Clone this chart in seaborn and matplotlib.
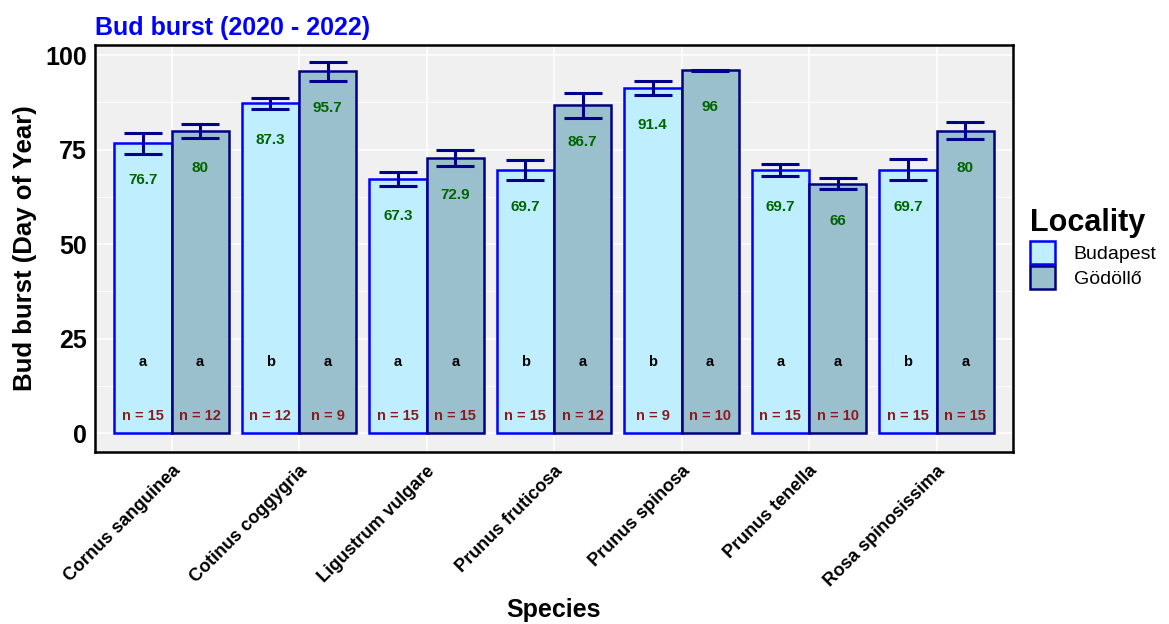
import numpy as np
import pandas as pd
import matplotlib
matplotlib.use("Agg")
import matplotlib.pyplot as plt
import seaborn as sns
from matplotlib.patches import Patch
from matplotlib.ticker import MultipleLocator

# ---- data -------------------------------------------------------------
species = ["Cornus sanguinea", "Cotinus coggygria", "Ligustrum vulgare",
           "Prunus fruticosa", "Prunus spinosa", "Prunus tenella",
           "Rosa spinosissima"]
localities = ["Budapest", "Gödöllő"]

mean_budapest = [76.7, 87.3, 67.3, 69.7, 91.4, 69.7, 69.7]
mean_godollo = [80.0, 95.7, 72.9, 86.7, 96.0, 66.0, 80.0]
se_budapest = [2.8, 1.5, 1.9, 2.7, 1.8, 1.6, 2.8]
se_godollo = [1.8, 2.4, 2.1, 3.2, 0.2, 1.4, 2.2]
letters_budapest = ["a", "b", "a", "b", "b", "a", "b"]
letters_godollo = ["a", "a", "a", "a", "a", "a", "a"]
n_budapest = [15, 12, 15, 15, 9, 15, 15]
n_godollo = [12, 9, 15, 12, 10, 10, 15]

df = pd.DataFrame({
    "Species": species * 2,
    "Locality": [localities[0]] * len(species) + [localities[1]] * len(species),
    "Mean": mean_budapest + mean_godollo,
    "SE": se_budapest + se_godollo,
    "Letter": letters_budapest + letters_godollo,
    "N": n_budapest + n_godollo,
})

fills = {"Budapest": "#BFEFFF", "Gödöllő": "#9AC0CD"}
edges = {"Budapest": "#0000FF", "Gödöllő": "#000080"}

# ---- style ------------------------------------------------------------
sns.set_style("white")
plt.rcParams["font.family"] = ["Liberation Sans", "DejaVu Sans"]
plt.rcParams["font.weight"] = "bold"
plt.rcParams["text.color"] = "black"
plt.rcParams["axes.labelcolor"] = "black"

fig = plt.figure(figsize=(11.69, 6.24), dpi=100)
ax = fig.add_axes([95 / 1169, 1 - 452 / 624, (1013 - 95) / 1169, (452 - 45) / 624])
ax.set_facecolor("#F0F0F0")

sns.barplot(data=df, x="Species", y="Mean", hue="Locality", order=species,
            hue_order=localities, palette=fills, saturation=1, width=0.9,
            gap=0, errorbar=None, legend=False, linewidth=1.8, ax=ax, zorder=2)

# per-locality outline colours, error bars and labels
for loc, container in zip(localities, ax.containers):
    sub = df[df["Locality"] == loc].set_index("Species").loc[species]
    xs = []
    for bar in container:
        bar.set_facecolor(fills[loc])
        bar.set_edgecolor(edges[loc])
        bar.set_linewidth(1.8)
        xs.append(bar.get_x() + bar.get_width() / 2)
    xs = np.array(xs)
    ax.errorbar(xs, sub["Mean"].values, yerr=sub["SE"].values, fmt="none",
                ecolor="#00008B", elinewidth=2.2, capsize=13.5, capthick=2.2,
                zorder=3)
    for x, m, letter, n in zip(xs, sub["Mean"].values, sub["Letter"].values,
                               sub["N"].values):
        ax.text(x, m - 9.8, f"{m:g}", ha="center", va="center",
                color="#006400", fontsize=11, fontweight="bold", zorder=4)
        ax.text(x, 18.7, letter, ha="center", va="center", color="black",
                fontsize=10.5, fontweight="bold", zorder=4)
        ax.text(x, 4.6, f"n = {n}", ha="center", va="center",
                color="#8B1A1A", fontsize=10.5, fontweight="bold", zorder=4)

# ---- axes -------------------------------------------------------------
ax.set_xlim(-0.6, len(species) - 0.4)
ax.set_ylim(-5.0, 102.7)
ax.yaxis.set_major_locator(MultipleLocator(25))
ax.yaxis.set_minor_locator(MultipleLocator(12.5))
ax.grid(which="major", color="white", linewidth=1.1, zorder=0)
ax.grid(which="minor", axis="y", color="white", linewidth=0.6, zorder=0)
ax.set_axisbelow(True)

for s in ax.spines.values():
    s.set_color("black")
    s.set_linewidth(1.8)
    s.set_visible(True)

ax.tick_params(axis="both", which="major", length=4, width=0.9,
               color="#333333", labelcolor="black", direction="out")
ax.tick_params(axis="y", which="minor", length=0)
ax.tick_params(axis="y", labelsize=18, pad=2)
ax.set_xticks(range(len(species)))
ax.set_xticklabels(species, rotation=45, ha="right", va="top",
                   rotation_mode="anchor", fontsize=13, fontweight="bold")
for lbl in ax.get_yticklabels():
    lbl.set_fontweight("bold")

ax.set_xlabel("Species", fontsize=18, fontweight="bold", color="black")
ax.xaxis.set_label_coords(0.5, -(598 - 452) / 407)
ax.set_ylabel("Bud burst (Day of Year)", fontsize=18.5, fontweight="bold",
              color="black", labelpad=6)
ax.set_title("Bud burst (2020 - 2022)", loc="left", color="#0000FF",
             fontsize=18, fontweight="bold", pad=7)

handles = [Patch(facecolor=fills[l], edgecolor=edges[l], linewidth=1.8)
           for l in localities]
leg = ax.legend(handles, localities, title="Locality", loc="center left",
                bbox_to_anchor=(1.008, 0.5), frameon=False, borderpad=0,
                handlelength=1.3, handleheight=1.4, handletextpad=0.95,
                labelspacing=0.15, prop={"size": 14, "weight": "normal"})
leg.get_title().set_fontsize(22)
leg.get_title().set_fontweight("bold")
leg.get_title().set_color("black")
for t in leg.get_texts():
    t.set_color("black")
leg._legend_box.align = "left"

fig.savefig("out.png", dpi=100)
